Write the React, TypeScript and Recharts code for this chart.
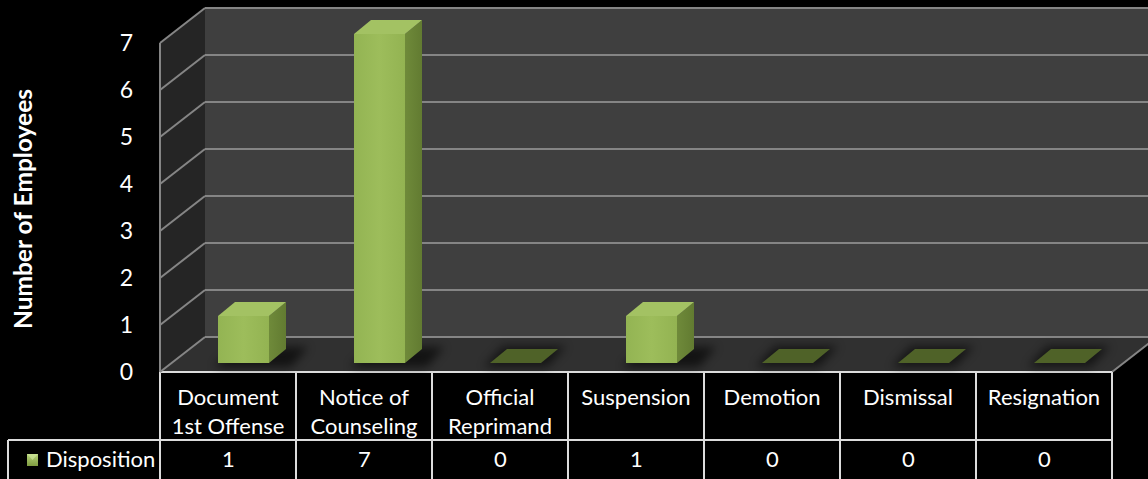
import { BarChart, Bar, XAxis, YAxis, CartesianGrid, LabelList } from 'recharts'

// chart values
const categories = [
  'Document\n1st Offense',
  'Notice of\nCounseling',
  'Official\nReprimand',
  'Suspension',
  'Demotion',
  'Dismissal',
  'Resignation',
]
const disposition = [1, 7, 0, 1, 0, 0, 0]
const yTicks = [0, 1, 2, 3, 4, 5, 6, 7]
const seriesName = 'Disposition'
const yTitle = 'Number of Employees'

const data = categories.map((name, i) => ({ name, value: disposition[i] }))

// layout
const W = 1148
const H = 479
const LEFT = 160
const RIGHT = 1112
const TOP = 43
const BOTTOM = 372
const DX = 45 // wall depth
const DY = 35
const ROW = 440
const FONT = 'Lato, "Open Sans", sans-serif'
const TEXT = '#ffffff'
const GRID = '#858585'
const TABLE = '#dcdcdc'

const bandW = (RIGHT - LEFT) / categories.length

function Bar3D(props: any) {
  const { x, y, width, height, value } = props
  const x0 = x + 15
  const yTop = y - 9
  const yBot = y + height - 9
  const bx = 17
  const by = 14
  const w = width
  if (!value) {
    return (
      <g>
        <polygon
          points={`${x0 - 6},${yBot + 4} ${x0 + w + 6},${yBot + 4} ${x0 + w + bx + 8},${yBot - by - 3} ${x0 + bx - 4},${yBot - by - 3}`}
          fill="#000"
          opacity={0.55}
          filter="url(#soft)"
        />
        <polygon
          points={`${x0},${yBot} ${x0 + w},${yBot} ${x0 + w + bx},${yBot - by} ${x0 + bx},${yBot - by}`}
          fill="#4f6228"
        />
      </g>
    )
  }
  return (
    <g>
      <polygon
        points={`${x0 - 4},${yBot + 4} ${x0 + w + 22},${yBot + 4} ${x0 + w + bx + 22},${yBot - by - 2} ${x0 + bx},${yBot - by - 2}`}
        fill="#000"
        opacity={0.6}
        filter="url(#soft)"
      />
      <rect x={x0} y={yTop} width={w} height={yBot - yTop} fill="url(#front)" />
      <polygon
        points={`${x0 + w},${yTop} ${x0 + w + bx},${yTop - by} ${x0 + w + bx},${yBot - by} ${x0 + w},${yBot}`}
        fill="url(#side)"
      />
      <polygon
        points={`${x0},${yTop} ${x0 + w},${yTop} ${x0 + w + bx},${yTop - by} ${x0 + bx},${yTop - by}`}
        fill="#a3c263"
      />
    </g>
  )
}

function GridLine(props: any) {
  const { x1, x2, y1, index } = props
  return (
    <g key={`g-${index}`}>
      <line x1={x1} y1={y1} x2={x1 + DX} y2={y1 - DY} stroke={GRID} strokeWidth={2} />
      <line x1={x1 + DX} y1={y1 - DY} x2={x2 + DX} y2={y1 - DY} stroke={GRID} strokeWidth={2} />
    </g>
  )
}

function CategoryTick(props: any) {
  const { x, payload } = props
  const lines = String(payload.value).split('\n')
  return (
    <g>
      {lines.map((t, i) => (
        <text
          key={i}
          x={x}
          y={405 + i * 29}
          textAnchor="middle"
          fill={TEXT}
          fontSize={22}
          fontFamily={FONT}
        >
          {t}
        </text>
      ))}
    </g>
  )
}

function ValueTick(props: any) {
  const { x, y, payload } = props
  return (
    <text x={x - 19} y={y} dy={8} textAnchor="end" fill={TEXT} fontSize={23} fontFamily={FONT}>
      {payload.value}
    </text>
  )
}

function Backdrop() {
  const cols = Array.from({ length: categories.length + 1 }, (_, i) => LEFT + i * bandW)
  return (
    <svg width={W} height={H} style={{ position: 'absolute', left: 0, top: 0 }}>
      <defs>
        <filter id="soft" x="-30%" y="-80%" width="160%" height="260%">
          <feGaussianBlur stdDeviation="5" />
        </filter>
        <linearGradient id="front" x1="0" y1="0" x2="1" y2="0">
          <stop offset="0" stopColor="#93b453" />
          <stop offset="0.5" stopColor="#9dbd5b" />
          <stop offset="1" stopColor="#93b352" />
        </linearGradient>
        <linearGradient id="side" x1="0" y1="0" x2="1" y2="0">
          <stop offset="0" stopColor="#6f8a3a" />
          <stop offset="1" stopColor="#627b31" />
        </linearGradient>
        <linearGradient id="key" x1="0" y1="0" x2="0" y2="1">
          <stop offset="0" stopColor="#b6d37a" />
          <stop offset="1" stopColor="#7f9c40" />
        </linearGradient>
      </defs>
      {/* side wall */}
      <polygon points={`${LEFT},${TOP} ${LEFT + DX},${TOP - DY} ${LEFT + DX},${BOTTOM - DY} ${LEFT},${BOTTOM}`} fill="#252525" />
      {/* back wall */}
      <rect x={LEFT + DX} y={TOP - DY} width={RIGHT - LEFT} height={BOTTOM - TOP} fill="#3f3f3f" />
      {/* floor */}
      <polygon
        points={`${LEFT},${BOTTOM} ${RIGHT},${BOTTOM} ${RIGHT + DX},${BOTTOM - DY} ${LEFT + DX},${BOTTOM - DY}`}
        fill="#303030"
      />
      <line x1={RIGHT} y1={BOTTOM} x2={RIGHT + DX} y2={BOTTOM - DY} stroke={GRID} strokeWidth={2} />
      {/* data table */}
      <line x1={LEFT} y1={BOTTOM} x2={RIGHT} y2={BOTTOM} stroke={TABLE} strokeWidth={2} />
      <line x1={8} y1={ROW} x2={RIGHT} y2={ROW} stroke={TABLE} strokeWidth={2} />
      <line x1={8} y1={ROW} x2={8} y2={H} stroke={TABLE} strokeWidth={2} />
      {cols.map((cx, i) => (
        <line key={i} x1={cx} y1={BOTTOM} x2={cx} y2={H} stroke={TABLE} strokeWidth={2} />
      ))}
      <rect x={27} y={454} width={11} height={12} fill="url(#key)" />
      <polygon points="27,454 38,454 32.5,460" fill="#cfe59a" opacity={0.7} />
      <text x={46} y={467} fill={TEXT} fontSize={22} fontFamily={FONT}>
        {seriesName}
      </text>
    </svg>
  )
}

export default function App() {
  return (
    <div style={{ position: 'fixed', left: 0, top: 0, width: W, height: H, background: '#000', overflow: 'hidden' }}>
      <Backdrop />
      <BarChart
        width={W}
        height={H}
        data={data}
        margin={{ top: TOP, right: W - RIGHT, bottom: 0, left: LEFT - 60 }}
        style={{ position: 'absolute', left: 0, top: 0 }}
      >
        <CartesianGrid horizontal={GridLine} vertical={false} />
        <XAxis
          dataKey="name"
          height={H - BOTTOM}
          axisLine={false}
          tickLine={false}
          interval={0}
          tick={<CategoryTick />}
        />
        <YAxis
          width={60}
          domain={[0, 7]}
          ticks={yTicks}
          axisLine={{ stroke: GRID, strokeWidth: 2 }}
          tickLine={false}
          tick={<ValueTick />}
          label={{
            content: () => (
              <text
                x={0}
                y={0}
                transform={`translate(32, 209) rotate(-90)`}
                textAnchor="middle"
                fill={TEXT}
                fontSize={24.5}
                fontWeight="bold"
                fontFamily={FONT}
              >
                {yTitle}
              </text>
            ),
          }}
        />
        <Bar dataKey="value" barSize={51} shape={<Bar3D />} isAnimationActive={false}>
          <LabelList
            dataKey="value"
            content={(p: any) => (
              <text x={p.x + p.width / 2} y={467} textAnchor="middle" fill={TEXT} fontSize={22} fontFamily={FONT}>
                {p.value}
              </text>
            )}
          />
        </Bar>
      </BarChart>
    </div>
  )
}
